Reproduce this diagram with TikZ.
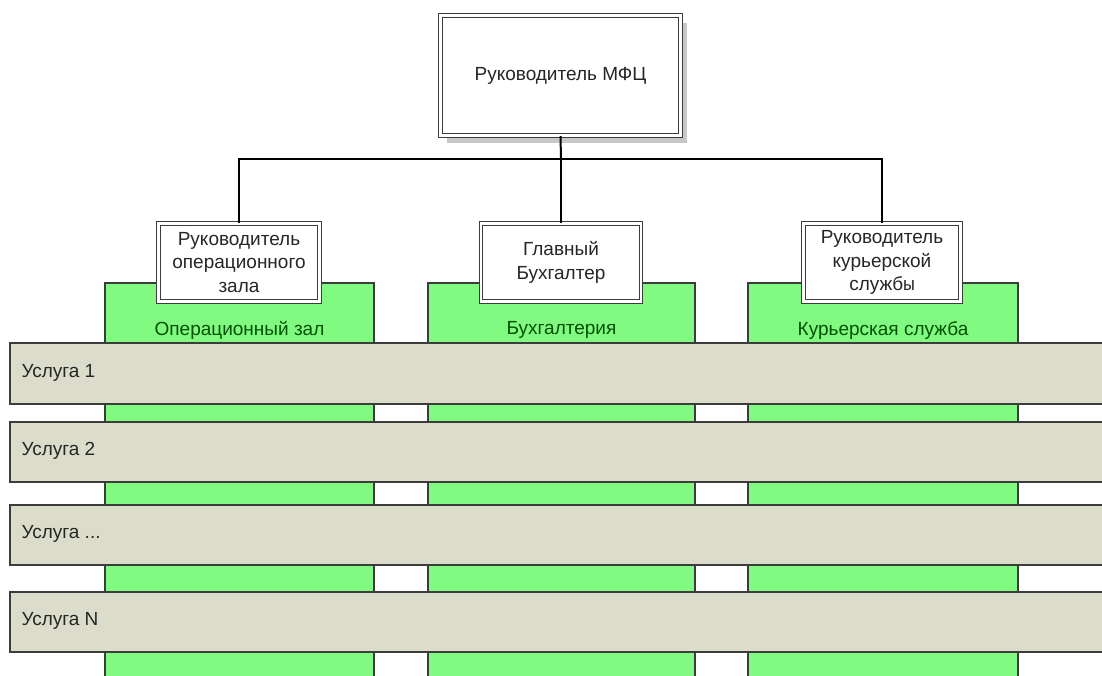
\documentclass[tikz,border=0pt]{standalone}
\usepackage{fontspec}
\setmainfont{Liberation Sans}
\newfontfamily\monoy{Liberation Mono}
\usetikzlibrary{shadows}
\definecolor{grfill}{RGB}{128,250,128}
\definecolor{barfill}{RGB}{220,220,202}
\definecolor{edge}{RGB}{60,60,60}
\definecolor{grtext}{RGB}{0,80,0}
\tikzset{
  colbox/.style={draw=edge,line width=1.6pt,fill=grfill},
  barbox/.style={draw=edge,line width=1.4pt,fill=barfill},
  headbox/.style={draw=edge,line width=1.2pt,double=white,double distance=2.2pt,fill=white,
    drop shadow={shadow xshift=6pt,shadow yshift=-7pt,fill=black!22,opacity=1},
    align=center,inner sep=0pt,text=black!85,font=\fontsize{19}{23.5}\selectfont},
  subbox/.style={draw=edge,line width=1.2pt,double=white,double distance=2.2pt,fill=white,
    align=center,inner sep=0pt,text=black!85,font=\fontsize{19}{23.5}\selectfont},
  collabel/.style={text=grtext,font=\fontsize{19}{22}\selectfont},
  barlabel/.style={anchor=west,text=black!85,font=\fontsize{19}{22}\selectfont},
  conn/.style={line width=2pt,black}
}
\begin{document}
\begin{tikzpicture}[x=1pt,y=-1pt]
\useasboundingbox (0,0) rectangle (1102,675);
% green columns
\fill[grfill] (105,283) rectangle (374,680);
\draw[colbox] (105,680) -- (105,283) -- (374,283) -- (374,680);
\fill[grfill] (428,283) rectangle (695,680);
\draw[colbox] (428,680) -- (428,283) -- (695,283) -- (695,680);
\fill[grfill] (748,283) rectangle (1018,680);
\draw[colbox] (748,680) -- (748,283) -- (1018,283) -- (1018,680);
\node[collabel] (c1) at (239.5,330) {Операционный зал};
\node[collabel] (c2) at (561.5,330) {Бухгалтерия};
\node[collabel] (c3) at (883,330) {Курьерская служба};
% service bars
\draw[barbox] (1110,343) -- (10,343) -- (10,404) -- (1110,404);
\draw[barbox] (1110,422) -- (10,422) -- (10,482) -- (1110,482);
\draw[barbox] (1110,505) -- (10,505) -- (10,565) -- (1110,565);
\draw[barbox] (1110,592) -- (10,592) -- (10,652) -- (1110,652);
\node[barlabel] (u1) at (18,373) {Услуга 1};
\node[barlabel] (u2) at (18,451) {Услуга 2};
\node[barlabel] (u3) at (18,534) {Услуга ...};
\node[barlabel] (u4) at (18,621) {Услуга N};
% head boxes
\node[headbox,minimum width=240pt,minimum height=120pt] (top) at (560.5,75.5) {Руководитель МФЦ};
\node[subbox,minimum width=161pt,minimum height=78pt] (s1) at (239,262.5) {Руководитель\\операционного\\зала};
\node[subbox,minimum width=160pt,minimum height=78pt] (s2) at (561,262.5) {Главный\\Бухгалтер};
\node[subbox,minimum width=157pt,minimum height=78pt] (s3) at (882,262.5) {Руководитель\\курьерской\\служб{\monoy ы}};
% connectors
\coordinate (j) at (561,159);
\draw[conn] (top.south) -- (j);
\draw[conn] (s1.north) |- (j) -| (s3.north);
\draw[conn] (j) -- (s2.north);
\end{tikzpicture}
\end{document}
